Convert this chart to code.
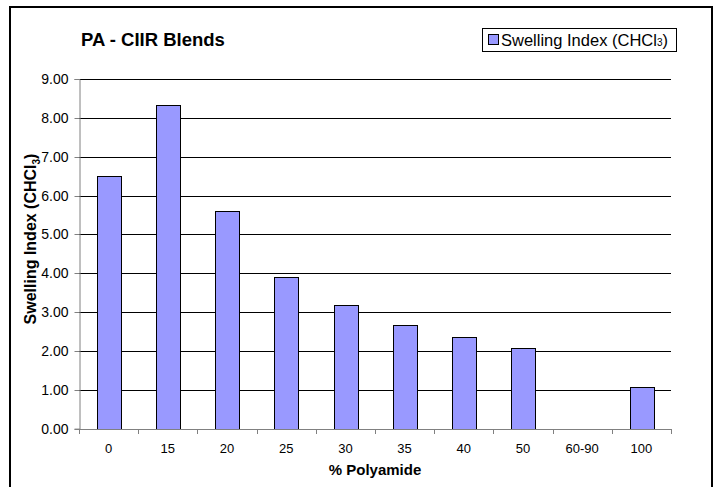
<!DOCTYPE html>
<html>
<head>
<meta charset="utf-8">
<script src="https://cdn.jsdelivr.net/npm/d3@7"></script>
<style>
  body { margin: 0; background: #fff; }
  text { font-family: "Liberation Sans", Arial, sans-serif; }
</style>
</head>
<body>
<div id="chart"></div>
<script>
(function() {
  var width = 720;
  var height = 487;

  // data
  var categories = ["0", "15", "20", "25", "30", "35", "40", "50", "60-90", "100"];
  var swelling = [6.5, 8.32, 5.6, 3.9, 3.18, 2.67, 2.35, 2.07, null, 1.08];
  var yTicks = [0, 1, 2, 3, 4, 5, 6, 7, 8, 9];

  var left = 79, right = 671, top = 79, bottom = 428.6;

  var svg = d3
    .select("#chart")
    .append("svg")
    .attr("width", width)
    .attr("height", height);

  // outer frame
  svg
    .append("rect")
    .attr("x", 10)
    .attr("y", 7)
    .attr("width", 702)
    .attr("height", 500)
    .attr("fill", "none")
    .attr("stroke", "#000")
    .attr("stroke-width", 2);

  var x = d3
    .scaleBand()
    .domain(categories)
    .range([left, right])
    .paddingInner(0.6)
    .paddingOuter(0.3);

  var y = d3
    .scaleLinear()
    .domain([0, 9])
    .range([bottom, top]);

  // gridlines
  svg
    .append("g")
    .selectAll("line")
    .data(yTicks.slice(1))
    .enter()
    .append("line")
    .attr("x1", left)
    .attr("x2", right)
    .attr("y1", function(d) { return Math.round(y(d)) + 0.5; })
    .attr("y2", function(d) { return Math.round(y(d)) + 0.5; })
    .attr("stroke", "#000")
    .attr("stroke-width", 1);

  // bars
  svg
    .append("g")
    .selectAll("rect")
    .data(categories.map(function(c, i) { return { cat: c, v: swelling[i] }; })
      .filter(function(d) { return d.v != null; }))
    .enter()
    .append("rect")
    .attr("x", function(d) { return Math.round(x(d.cat)) + 0.5; })
    .attr("y", function(d) { return Math.round(y(d.v)) + 0.5; })
    .attr("width", function() { return Math.round(x.bandwidth()); })
    .attr("height", function(d) { return Math.round(y(0)) - Math.round(y(d.v)); })
    .attr("fill", "#9999ff")
    .attr("stroke", "#000")
    .attr("stroke-width", 1);

  // y axis
  var yAxis = d3
    .axisLeft(y)
    .tickValues(yTicks)
    .tickSize(5)
    .tickPadding(6)
    .tickFormat(d3.format(".2f"));

  var gy = svg
    .append("g")
    .attr("transform", "translate(" + (left + 0.5) + ",0)")
    .call(yAxis);
  gy.select(".domain").attr("stroke", "#808080");
  gy.selectAll(".tick line").attr("stroke", "#808080");
  gy.selectAll(".tick text")
    .attr("font-family", "Liberation Sans, Arial, sans-serif")
    .attr("font-size", 14)
    .attr("fill", "#000");
  gy.selectAll(".tick").attr("transform", function(d) {
    return "translate(0," + (Math.round(y(d)) + 0.5) + ")";
  });

  // x axis: ticks sit between categories, labels centred under bars
  var xLine = d3
    .scaleLinear()
    .domain([0, categories.length])
    .range([left, right]);

  var gx = svg.append("g");
  gx.append("line")
    .attr("x1", left)
    .attr("x2", right)
    .attr("y1", Math.round(bottom) + 0.5)
    .attr("y2", Math.round(bottom) + 0.5)
    .attr("stroke", "#808080");
  gx.selectAll(".xt")
    .data(d3.range(categories.length + 1))
    .enter()
    .append("line")
    .attr("class", "xt")
    .attr("x1", function(d) { return Math.round(xLine(d)) + 0.5; })
    .attr("x2", function(d) { return Math.round(xLine(d)) + 0.5; })
    .attr("y1", Math.round(bottom))
    .attr("y2", Math.round(bottom) + 5)
    .attr("stroke", "#808080");
  gx.selectAll(".xl")
    .data(categories)
    .enter()
    .append("text")
    .attr("class", "xl")
    .attr("x", function(d) { return x(d) + x.bandwidth() / 2; })
    .attr("y", 453)
    .attr("text-anchor", "middle")
    .attr("font-size", 13)
    .text(function(d) { return d; });

  // title
  svg
    .append("text")
    .attr("x", 81)
    .attr("y", 46)
    .attr("font-size", 18.5)
    .attr("font-weight", "bold")
    .text("PA - CIIR Blends");

  // x axis title
  svg
    .append("text")
    .attr("x", (left + right) / 2)
    .attr("y", 475)
    .attr("text-anchor", "middle")
    .attr("font-size", 15)
    .attr("font-weight", "bold")
    .text("% Polyamide");

  // y axis title
  var yt = svg
    .append("text")
    .attr("transform", "translate(36," + 239 + ") rotate(-90)")
    .attr("text-anchor", "middle")
    .attr("font-size", 16)
    .attr("font-weight", "bold");
  yt.append("tspan").text("Swelling Index (CHCl");
  yt.append("tspan").attr("font-size", 10).attr("dy", 4).text("3");
  yt.append("tspan").attr("dy", -4).text(")");

  // legend
  var lg = svg.append("g");
  lg.append("rect")
    .attr("x", 482.5)
    .attr("y", 28.5)
    .attr("width", 194)
    .attr("height", 23)
    .attr("fill", "#fff")
    .attr("stroke", "#000");
  lg.append("rect")
    .attr("x", 488.5)
    .attr("y", 34.5)
    .attr("width", 10)
    .attr("height", 10)
    .attr("fill", "#9999ff")
    .attr("stroke", "#000");
  var lt = lg.append("text")
    .attr("x", 501)
    .attr("y", 46)
    .attr("font-size", 16.5);
  lt.append("tspan").text("Swelling Index (CHCl");
  lt.append("tspan").attr("font-size", 10).text("3");
  lt.append("tspan").text(")");
})();
</script>
</body>
</html>
